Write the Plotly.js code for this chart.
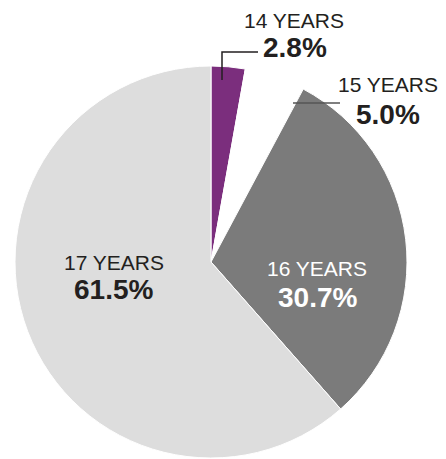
<!DOCTYPE html>
<html>
<head>
<meta charset="utf-8">
<script src="https://cdn.plot.ly/plotly-3.0.1.min.js"></script>
<style>html,body{margin:0;padding:0;background:#fff;}#chart{width:446px;height:459px;}</style>
</head>
<body>
<div id="chart"></div>
<script>
const categories = ["14 YEARS", "15 YEARS", "16 YEARS", "17 YEARS"];
const shares = [2.8, 5.0, 30.7, 61.5];
const percentLabels = ["2.8%", "5.0%", "30.7%", "61.5%"];
const sliceColors = ["#7b2e7d", "#ffffff", "#7b7b7b", "#dddddd"];

const W = 446, H = 459;
const px = (x) => x / W;
const py = (y) => 1 - y / H;

const trace = {
  type: "pie",
  labels: categories,
  values: shares,
  sort: false,
  direction: "clockwise",
  rotation: 0,
  textinfo: "none",
  hoverinfo: "label+percent",
  marker: { colors: sliceColors, line: { color: "#ffffff", width: 1 } },
  domain: { x: [px(15), px(407)], y: [py(458), py(66)] },
  showlegend: false
};

const labelFont = { family: "Liberation Sans, Arial, sans-serif", size: 21, color: "#231f20" };
const valueFont = { family: "Liberation Sans, Arial, sans-serif", size: 28, color: "#231f20", weight: "bold" };

const labelPos = [
  { cx: 294, cy: 21, vx: 295, vy: 48, col: "#231f20" },
  { cx: 388, cy: 84, vx: 388, vy: 114, col: "#231f20" },
  { cx: 317, cy: 268, vx: 317, vy: 297, col: "#ffffff" },
  { cx: 114, cy: 262, vx: 113, vy: 289, col: "#231f20" }
];

const annotations = [];
categories.forEach((c, i) => {
  const p = labelPos[i];
  annotations.push({ xref: "paper", yref: "paper", x: px(p.cx), y: py(p.cy), text: c, showarrow: false,
    xanchor: "center", yanchor: "middle", font: Object.assign({}, labelFont, { color: p.col }) });
  annotations.push({ xref: "paper", yref: "paper", x: px(p.vx), y: py(p.vy), text: "<b>" + percentLabels[i] + "</b>", showarrow: false,
    xanchor: "center", yanchor: "middle", font: Object.assign({}, valueFont, { color: p.col }) });
});

const shapes = [
  { type: "path", xref: "paper", yref: "paper",
    path: `M ${px(222)} ${py(80)} L ${px(222)} ${py(52)} L ${px(258)} ${py(52)}`,
    line: { color: "#231f20", width: 1.5 } },
  { type: "line", xref: "paper", yref: "paper", x0: px(293), y0: py(103), x1: px(340), y1: py(103),
    line: { color: "#555555", width: 1.5 } }
];

const layout = {
  width: W, height: H,
  margin: { l: 0, r: 0, t: 0, b: 0 },
  paper_bgcolor: "#ffffff",
  plot_bgcolor: "#ffffff",
  annotations: annotations,
  shapes: shapes
};

Plotly.newPlot("chart", [trace], layout, { displayModeBar: false, staticPlot: true });
</script>
</body>
</html>
